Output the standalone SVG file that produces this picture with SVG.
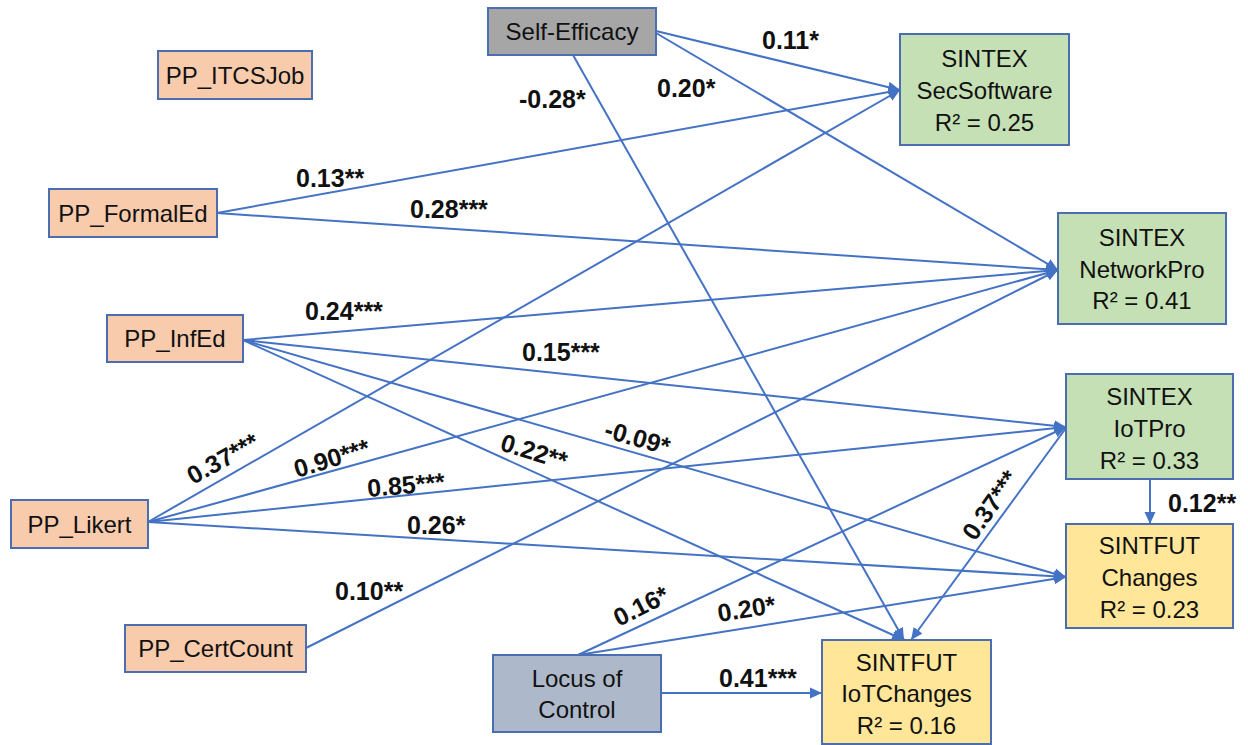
<svg xmlns="http://www.w3.org/2000/svg" width="1248" height="745" viewBox="0 0 1248 745">
<defs>
<marker id="ah" markerUnits="userSpaceOnUse" markerWidth="14" markerHeight="12" refX="12" refY="6" orient="auto">
<path d="M0,0.5 L12,6 L0,11.5 Z" fill="#4472C4"/>
</marker>
<style>
.box{stroke:#4A6EB0;stroke-width:2}
.pp{fill:#F8CBAD}
.gr{fill:#C5E0B4}
.ye{fill:#FFE699}
.se{fill:#A6A6A6}
.lc{fill:#ADB9CA}
.t{font-family:"Liberation Sans",Arial,sans-serif;font-size:24px;fill:#111;text-anchor:middle}
.lb{font-family:"Liberation Sans",Arial,sans-serif;font-size:25px;font-weight:bold;fill:#111}
.e{stroke:#4472C4;stroke-width:2;fill:none;marker-end:url(#ah)}
</style>
</defs>
<rect width="1248" height="745" fill="#fff"/>
<g id="connectors">
<line class="e" x1="656" y1="31" x2="900" y2="90"/>
<line class="e" x1="656" y1="33" x2="1058" y2="270"/>
<line class="e" x1="573" y1="55" x2="904" y2="640"/>
<line class="e" x1="217" y1="213" x2="900" y2="90"/>
<line class="e" x1="217" y1="213" x2="1058" y2="270"/>
<line class="e" x1="243" y1="340" x2="1058" y2="270"/>
<line class="e" x1="243" y1="340" x2="1066" y2="427"/>
<line class="e" x1="243" y1="340" x2="1066" y2="577"/>
<line class="e" x1="243" y1="340" x2="904" y2="640"/>
<line class="e" x1="148" y1="522" x2="900" y2="90"/>
<line class="e" x1="148" y1="522" x2="1058" y2="270"/>
<line class="e" x1="148" y1="522" x2="1066" y2="427"/>
<line class="e" x1="148" y1="522" x2="1066" y2="577"/>
<line class="e" x1="306" y1="648" x2="1058" y2="270"/>
<line class="e" x1="578" y1="655" x2="1066" y2="427"/>
<line class="e" x1="578" y1="655" x2="1066" y2="577"/>
<line class="e" x1="661" y1="693" x2="822" y2="693"/>
<line class="e" x1="1150" y1="479" x2="1150" y2="524"/>
<line class="e" x1="1066" y1="428" x2="911" y2="640"/>
</g>
<g id="labels">
<text class="lb" x="762" y="49">0.11*</text>
<text class="lb" x="657" y="97">0.20*</text>
<text class="lb" x="519" y="108">-0.28*</text>
<text class="lb" x="296" y="187">0.13**</text>
<text class="lb" x="410" y="218">0.28***</text>
<text class="lb" x="305" y="320">0.24***</text>
<text class="lb" x="522" y="361">0.15***</text>
<text class="lb" transform="translate(603,437) rotate(16)">-0.09*</text>
<text class="lb" transform="translate(499,450) rotate(17)">0.22**</text>
<text class="lb" transform="translate(193,485) rotate(-29)">0.37***</text>
<text class="lb" transform="translate(297,478) rotate(-17)">0.90***</text>
<text class="lb" transform="translate(368,497) rotate(-5)">0.85***</text>
<text class="lb" x="407" y="534">0.26*</text>
<text class="lb" x="335" y="600">0.10**</text>
<text class="lb" transform="translate(619,627) rotate(-27)">0.16*</text>
<text class="lb" transform="translate(719,622) rotate(-9)">0.20*</text>
<text class="lb" x="719" y="687">0.41***</text>
<text class="lb" x="1168" y="512">0.12**</text>
<text class="lb" transform="translate(975,542) rotate(-55)">0.37***</text>
</g>
<g id="PP_ITCSJob"><rect class="box pp" x="158" y="51" width="154" height="48"/><text class="t" x="235" y="84">PP_ITCSJob</text></g>
<g id="PP_FormalEd"><rect class="box pp" x="49" y="189" width="168" height="48"/><text class="t" x="133" y="222">PP_FormalEd</text></g>
<g id="PP_InfEd"><rect class="box pp" x="107" y="315" width="136" height="47"/><text class="t" x="175" y="347">PP_InfEd</text></g>
<g id="PP_Likert"><rect class="box pp" x="11" y="500" width="137" height="48"/><text class="t" x="79.5" y="533">PP_Likert</text></g>
<g id="PP_CertCount"><rect class="box pp" x="125" y="625" width="181" height="47"/><text class="t" x="215.5" y="657">PP_CertCount</text></g>
<g id="Self-Efficacy"><rect class="box se" x="488" y="8" width="168" height="47"/><text class="t" x="572" y="40">Self-Efficacy</text></g>
<g id="Locus"><rect class="box lc" x="493" y="655" width="168" height="77"/><text class="t" x="577" y="687">Locus of</text><text class="t" x="577" y="718">Control</text></g>
<g id="SecSoftware"><rect class="box gr" x="900" y="34" width="169" height="111"/><text class="t" x="984.5" y="67">SINTEX</text><text class="t" x="984.5" y="99">SecSoftware</text><text class="t" x="984.5" y="131">R² = 0.25</text></g>
<g id="NetworkPro"><rect class="box gr" x="1058" y="213" width="168" height="111"/><text class="t" x="1142" y="246">SINTEX</text><text class="t" x="1142" y="278">NetworkPro</text><text class="t" x="1142" y="309">R² = 0.41</text></g>
<g id="IoTPro"><rect class="box gr" x="1066" y="374" width="167" height="105"/><text class="t" x="1149.5" y="405">SINTEX</text><text class="t" x="1149.5" y="437">IoTPro</text><text class="t" x="1149.5" y="469">R² = 0.33</text></g>
<g id="Changes"><rect class="box ye" x="1066" y="524" width="167" height="104"/><text class="t" x="1149.5" y="554">SINTFUT</text><text class="t" x="1149.5" y="586">Changes</text><text class="t" x="1149.5" y="618">R² = 0.23</text></g>
<g id="IoTChanges"><rect class="box ye" x="822" y="640" width="169" height="104"/><text class="t" x="906.5" y="671">SINTFUT</text><text class="t" x="906.5" y="702">IoTChanges</text><text class="t" x="906.5" y="734">R² = 0.16</text></g>
</svg>
